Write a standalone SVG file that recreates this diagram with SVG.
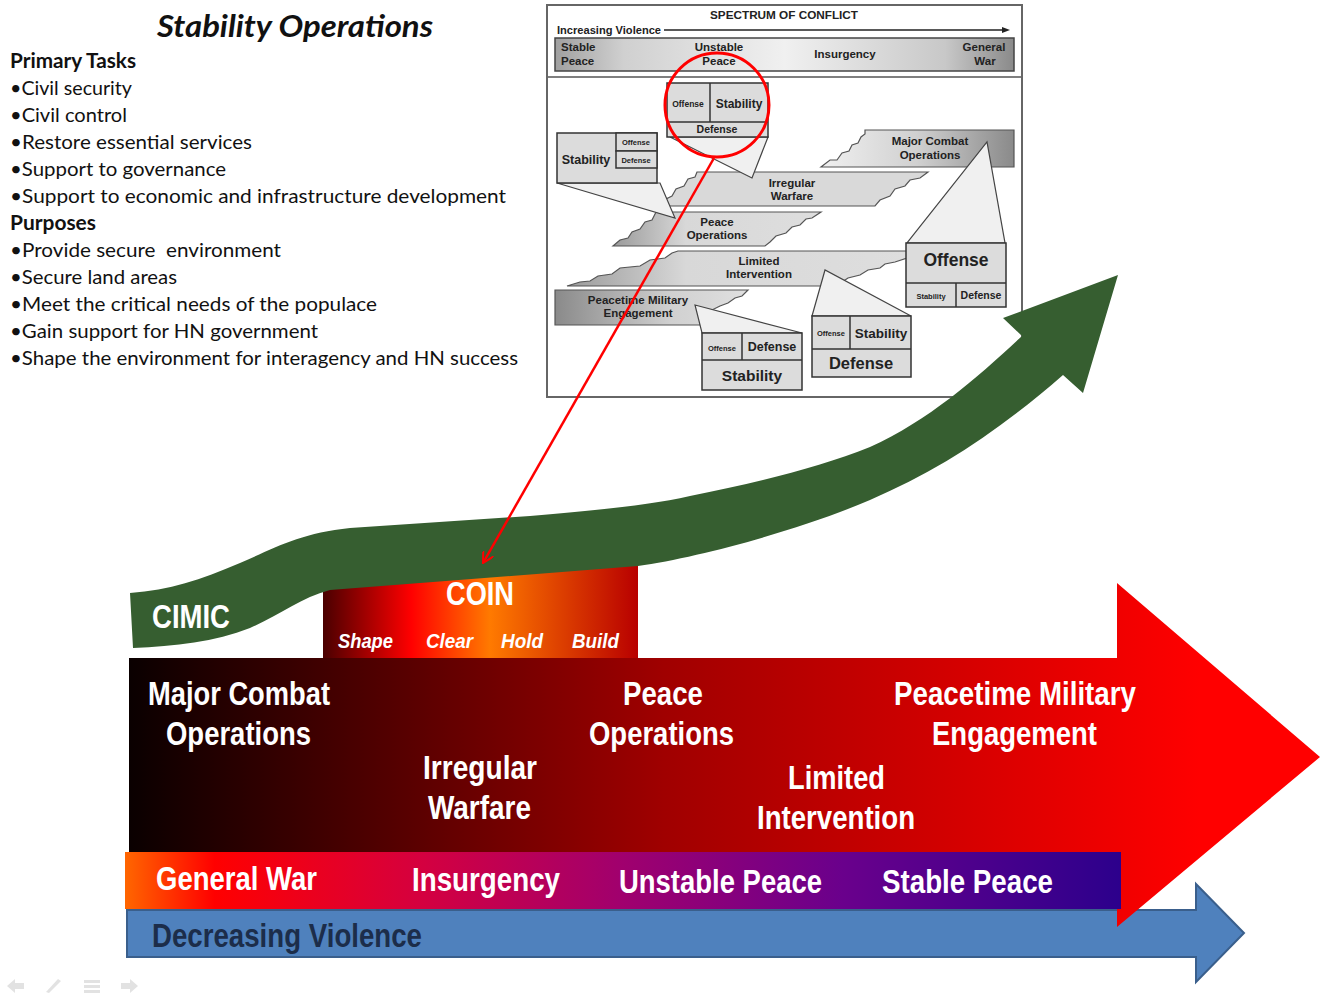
<svg xmlns="http://www.w3.org/2000/svg" width="1320" height="993" viewBox="0 0 1320 993">
<defs>
<style>
.lt{font-family:Lato,"Open Sans","Liberation Sans",sans-serif;font-size:20px;fill:#111}
.ltb{font-weight:bold}
.ins{font-family:"Liberation Sans",Arial,sans-serif;font-weight:bold;fill:#222;text-anchor:middle}
.box{fill:#dcdcdc;stroke:#333;stroke-width:1.5}
.tri{fill:#f0f0f0;stroke:#444;stroke-width:1.2}
.torn{stroke:#555;stroke-width:1.2}
.big{font-family:"Liberation Sans Narrow","Liberation Sans",Arial,sans-serif;font-size:33px;font-weight:bold;fill:#fff}
.sub{font-family:"Liberation Sans Narrow","Liberation Sans",Arial,sans-serif;font-size:21px;font-weight:bold;font-style:italic;fill:#fff}
.nav{fill:#e2e2e2}
</style>
<linearGradient id="gBar" x1="0" y1="0" x2="1" y2="0">
<stop offset="0" stop-color="#a0a0a0"/><stop offset="0.15" stop-color="#d0d0d0"/><stop offset="0.5" stop-color="#f0f0f0"/><stop offset="0.85" stop-color="#c8c8c8"/><stop offset="1" stop-color="#8a8a8a"/>
</linearGradient>
<linearGradient id="gMCO" x1="0" y1="0" x2="1" y2="0">
<stop offset="0" stop-color="#f0f0f0"/><stop offset="0.5" stop-color="#d0d0d0"/><stop offset="1" stop-color="#8a8a8a"/>
</linearGradient>
<linearGradient id="gLeftDark" x1="0" y1="0" x2="1" y2="0">
<stop offset="0" stop-color="#9a9a9a"/><stop offset="0.35" stop-color="#d8d8d8"/><stop offset="1" stop-color="#dedede"/>
</linearGradient>
<linearGradient id="gPME" x1="0" y1="0" x2="1" y2="0">
<stop offset="0" stop-color="#8a8a8a"/><stop offset="0.6" stop-color="#d0d0d0"/><stop offset="1" stop-color="#e0e0e0"/>
</linearGradient>
<linearGradient id="gRed" gradientUnits="userSpaceOnUse" x1="129" y1="0" x2="1200" y2="0">
<stop offset="0" stop-color="#0a0000"/><stop offset="0.5" stop-color="#a00000"/><stop offset="1" stop-color="#ff0000"/>
</linearGradient>
<linearGradient id="gViolet" gradientUnits="userSpaceOnUse" x1="125" y1="0" x2="1121" y2="0">
<stop offset="0" stop-color="#ff6600"/><stop offset="0.09" stop-color="#ff0000"/><stop offset="0.3" stop-color="#d40040"/><stop offset="0.5" stop-color="#a0006e"/><stop offset="0.72" stop-color="#6a008c"/><stop offset="1" stop-color="#2c008c"/>
</linearGradient>
<linearGradient id="gCoin" gradientUnits="userSpaceOnUse" x1="323" y1="0" x2="638" y2="0">
<stop offset="0" stop-color="#4a0000"/><stop offset="0.28" stop-color="#ff0000"/><stop offset="0.53" stop-color="#ff7a00"/><stop offset="1" stop-color="#b80000"/>
</linearGradient>
<marker id="mArr" viewBox="0 0 12 12" refX="11" refY="6" markerWidth="12" markerHeight="12" markerUnits="userSpaceOnUse" orient="auto">
<path d="M0,0 L11,6 L0,12" fill="none" stroke="#ff0000" stroke-width="2"/>
</marker>
</defs>
<rect width="1320" height="993" fill="#fff"/>

<g id="title">
<text x="157" y="37" font-family="Lato,'Open Sans',sans-serif" font-size="30" font-weight="bold" font-style="italic" fill="#111" textLength="276" lengthAdjust="spacingAndGlyphs">Stability Operations</text>
</g>

<g id="left-list" class="lt">
<text x="10" y="68" class="lt ltb" textLength="126" lengthAdjust="spacingAndGlyphs">Primary Tasks</text>
<text x="10" y="95" class="lt" textLength="122" lengthAdjust="spacingAndGlyphs">•Civil security</text>
<text x="10" y="122" class="lt" textLength="117" lengthAdjust="spacingAndGlyphs">•Civil control</text>
<text x="10" y="149" class="lt" textLength="242" lengthAdjust="spacingAndGlyphs">•Restore essential services</text>
<text x="10" y="176" class="lt" textLength="216" lengthAdjust="spacingAndGlyphs">•Support to governance</text>
<text x="10" y="203" class="lt" textLength="496" lengthAdjust="spacingAndGlyphs">•Support to economic and infrastructure development</text>
<text x="10" y="230" class="lt ltb" textLength="86" lengthAdjust="spacingAndGlyphs">Purposes</text>
<text x="10" y="257" class="lt" xml:space="preserve" textLength="271" lengthAdjust="spacingAndGlyphs">•Provide secure  environment</text>
<text x="10" y="284" class="lt" textLength="167" lengthAdjust="spacingAndGlyphs">•Secure land areas</text>
<text x="10" y="311" class="lt" textLength="367" lengthAdjust="spacingAndGlyphs">•Meet the critical needs of the populace</text>
<text x="10" y="338" class="lt" textLength="308" lengthAdjust="spacingAndGlyphs">•Gain support for HN government</text>
<text x="10" y="365" class="lt" textLength="508" lengthAdjust="spacingAndGlyphs">•Shape the environment for interagency and HN success</text>
</g>

<g id="spectrum-inset">
<rect x="547" y="5" width="475" height="392" fill="#fff" stroke="#666" stroke-width="2"/>
<text x="784" y="19" class="ins" font-size="11.5" textLength="148" lengthAdjust="spacingAndGlyphs">SPECTRUM OF CONFLICT</text>
<text x="557" y="34" class="ins" font-size="11" style="text-anchor:start" textLength="104" lengthAdjust="spacingAndGlyphs">Increasing Violence</text>
<line x1="664" y1="30" x2="1004" y2="30" stroke="#222" stroke-width="1.3"/>
<path d="M1002,27 L1010,30 L1002,33 Z" fill="#222"/>
<rect x="555" y="38" width="459" height="33" fill="url(#gBar)" stroke="#444" stroke-width="1.5"/>
<text x="561" y="51" class="ins" font-size="11.5" style="text-anchor:start">Stable</text>
<text x="561" y="65" class="ins" font-size="11.5" style="text-anchor:start">Peace</text>
<text x="719" y="51" class="ins" font-size="11.5">Unstable</text>
<text x="719" y="65" class="ins" font-size="11.5">Peace</text>
<text x="845" y="58" class="ins" font-size="11.5">Insurgency</text>
<text x="984" y="51" class="ins" font-size="11.5">General</text>
<text x="985" y="65" class="ins" font-size="11.5">War</text>
<line x1="548" y1="77" x2="1021" y2="77" stroke="#555" stroke-width="1.5"/>

<polygon class="torn" fill="url(#gMCO)" points="865,130 1014,130 1014,167 821,167 830,160 837,160 842,153 849,151 852,145 858,143 861,137 865,134"/>
<text x="930" y="145" class="ins" font-size="11.5">Major Combat</text>
<text x="930" y="159" class="ins" font-size="11.5">Operations</text>

<polygon class="torn" fill="#d9d9d9" points="697,172 928,172 920,178 910,180 905,186 895,189 890,196 880,200 875,206 663,206 666,199 672,196 676,189 684,186 688,179 695,177"/>
<text x="792" y="187" class="ins" font-size="11.5">Irregular</text>
<text x="792" y="200" class="ins" font-size="11.5">Warfare</text>

<polygon class="torn" fill="url(#gLeftDark)" points="656,212 821,212 812,218 806,219 800,225 792,227 786,233 776,236 770,242 765,246 613,246 620,240 628,238 632,232 640,229 645,222 652,220"/>
<text x="717" y="226" class="ins" font-size="11.5">Peace</text>
<text x="717" y="239" class="ins" font-size="11.5">Operations</text>

<polygon class="torn" fill="url(#gLeftDark)" points="678,251 907,251 907,258 895,262 885,264 880,268 868,270 860,275 848,278 842,282 835,286 567,286 580,282 590,281 598,276 612,274 620,268 640,266 650,260 665,258 672,253"/>
<text x="759" y="265" class="ins" font-size="11.5">Limited</text>
<text x="759" y="278" class="ins" font-size="11.5">Intervention</text>

<polygon class="torn" fill="url(#gPME)" points="555,290 748,290 742,296 735,298 728,303 720,306 712,310 700,312 700,325 555,325"/>
<text x="638" y="304" class="ins" font-size="11.5">Peacetime Military</text>
<text x="638" y="317" class="ins" font-size="11.5">Engagement</text>

<polygon class="tri" points="670,137 768,137 752,178"/>
<polygon class="tri" points="557,183 660,183 675,218"/>
<polygon class="tri" points="907,243 1005,243 987,142"/>
<polygon class="tri" points="812,316 911,316 825,270"/>
<polygon class="tri" points="702,333 802,333 695,305"/>

<rect class="box" x="667" y="83" width="101" height="54"/>
<line x1="710" y1="83" x2="710" y2="122" stroke="#333" stroke-width="1.5"/>
<line x1="667" y1="122" x2="768" y2="122" stroke="#333" stroke-width="1.5"/>
<text x="688" y="107" class="ins" font-size="8.5">Offense</text>
<text x="739" y="108" class="ins" font-size="12">Stability</text>
<text x="717" y="133" class="ins" font-size="10.5">Defense</text>

<rect class="box" x="557" y="133" width="100" height="50"/>
<rect class="box" x="616" y="133" width="41" height="18"/>
<rect class="box" x="616" y="151" width="41" height="17"/>
<text x="586" y="164" class="ins" font-size="12.5">Stability</text>
<text x="636" y="145" class="ins" font-size="7.5">Offense</text>
<text x="636" y="163" class="ins" font-size="7.5">Defense</text>

<rect class="box" x="906" y="243" width="100" height="64"/>
<line x1="906" y1="283" x2="1006" y2="283" stroke="#333" stroke-width="1.5"/>
<line x1="956" y1="283" x2="956" y2="307" stroke="#333" stroke-width="1.5"/>
<text x="956" y="266" class="ins" font-size="17.5">Offense</text>
<text x="931" y="299" class="ins" font-size="7.5">Stability</text>
<text x="981" y="299" class="ins" font-size="10.5">Defense</text>

<rect class="box" x="812" y="316" width="99" height="61"/>
<line x1="812" y1="349" x2="911" y2="349" stroke="#333" stroke-width="1.5"/>
<line x1="850" y1="316" x2="850" y2="349" stroke="#333" stroke-width="1.5"/>
<text x="831" y="336" class="ins" font-size="7.5">Offense</text>
<text x="881" y="338" class="ins" font-size="13.5">Stability</text>
<text x="861" y="369" class="ins" font-size="16.5">Defense</text>

<rect class="box" x="702" y="333" width="100" height="57"/>
<line x1="702" y1="360" x2="802" y2="360" stroke="#333" stroke-width="1.5"/>
<line x1="742" y1="333" x2="742" y2="360" stroke="#333" stroke-width="1.5"/>
<text x="722" y="351" class="ins" font-size="7.5">Offense</text>
<text x="772" y="351" class="ins" font-size="12.5">Defense</text>
<text x="752" y="381" class="ins" font-size="15.5">Stability</text>
</g>

<g id="blue-arrow">
<path d="M127,910 L1196,910 L1196,884 L1244,933 L1196,982 L1196,957 L127,957 Z" fill="#4f81bd" stroke="#3a5f8c" stroke-width="2"/>
<text x="152" y="947" class="big" style="fill:#1c2d4a" textLength="270" lengthAdjust="spacingAndGlyphs">Decreasing Violence</text>
</g>

<g id="red-arrow">
<path d="M129,658 L1117,658 L1117,583 L1320,757 L1117,927 L1117,853 L129,853 Z" fill="url(#gRed)"/>
<text x="148" y="705" class="big" textLength="182" lengthAdjust="spacingAndGlyphs">Major Combat</text>
<text x="166" y="745" class="big" textLength="145" lengthAdjust="spacingAndGlyphs">Operations</text>
<text x="423" y="779" class="big" textLength="114" lengthAdjust="spacingAndGlyphs">Irregular</text>
<text x="428" y="819" class="big" textLength="103" lengthAdjust="spacingAndGlyphs">Warfare</text>
<text x="623" y="705" class="big" textLength="80" lengthAdjust="spacingAndGlyphs">Peace</text>
<text x="589" y="745" class="big" textLength="145" lengthAdjust="spacingAndGlyphs">Operations</text>
<text x="788" y="789" class="big" textLength="97" lengthAdjust="spacingAndGlyphs">Limited</text>
<text x="757" y="829" class="big" textLength="158" lengthAdjust="spacingAndGlyphs">Intervention</text>
<text x="894" y="705" class="big" textLength="242" lengthAdjust="spacingAndGlyphs">Peacetime Military</text>
<text x="932" y="745" class="big" textLength="165" lengthAdjust="spacingAndGlyphs">Engagement</text>
</g>

<g id="spectrum-band">
<rect x="125" y="852" width="996" height="57" fill="url(#gViolet)"/>
<text x="156" y="890" class="big" textLength="161" lengthAdjust="spacingAndGlyphs">General War</text>
<text x="412" y="891" class="big" textLength="148" lengthAdjust="spacingAndGlyphs">Insurgency</text>
<text x="619" y="893" class="big" textLength="203" lengthAdjust="spacingAndGlyphs">Unstable Peace</text>
<text x="882" y="893" class="big" textLength="171" lengthAdjust="spacingAndGlyphs">Stable Peace</text>
</g>

<g id="coin">
<rect x="323" y="565" width="315" height="93" fill="url(#gCoin)"/>
<text x="446" y="605" class="big" textLength="68" lengthAdjust="spacingAndGlyphs">COIN</text>
<text x="338" y="648" class="sub" textLength="55" lengthAdjust="spacingAndGlyphs">Shape</text>
<text x="426" y="648" class="sub" textLength="47" lengthAdjust="spacingAndGlyphs">Clear</text>
<text x="501" y="648" class="sub" textLength="42" lengthAdjust="spacingAndGlyphs">Hold</text>
<text x="572" y="648" class="sub" textLength="47" lengthAdjust="spacingAndGlyphs">Build</text>
</g>

<g id="cimic-arrow">
<path d="M130,593 C170,590 200,580 240,563 C275,548 300,533 350,528 L530,516 C600,510 650,505 690,496 C760,482 820,467 870,447 C930,420 980,375 1022,336 L1003,318 L1118,275 L1083,393 L1063,375 C1000,430 940,470 870,500 C800,530 700,557 638,566 L330,590 C300,598 280,615 250,628 C215,642 175,646 133,648 Z" fill="#365e30"/>
<text x="152" y="628" class="big" textLength="78" lengthAdjust="spacingAndGlyphs">CIMIC</text>
</g>

<g id="connectors">
<circle cx="717" cy="105" r="52" fill="none" stroke="#ff0000" stroke-width="3"/>
<line x1="714" y1="158" x2="483" y2="563" stroke="#ff0000" stroke-width="2.5" marker-end="url(#mArr)"/>
</g>

<g id="nav-icons">
<path class="nav" d="M7,986 L15,979 L15,983 L24,983 L24,989 L15,989 L15,993 Z"/>
<path class="nav" d="M46,992 L58,979 L61,981 L49,993 Z"/>
<rect class="nav" x="84" y="980" width="16" height="3"/>
<rect class="nav" x="84" y="985" width="16" height="3"/>
<rect class="nav" x="84" y="990" width="16" height="3"/>
<path class="nav" d="M138,986 L130,979 L130,983 L121,983 L121,989 L130,989 L130,993 Z"/>
</g>
</svg>
